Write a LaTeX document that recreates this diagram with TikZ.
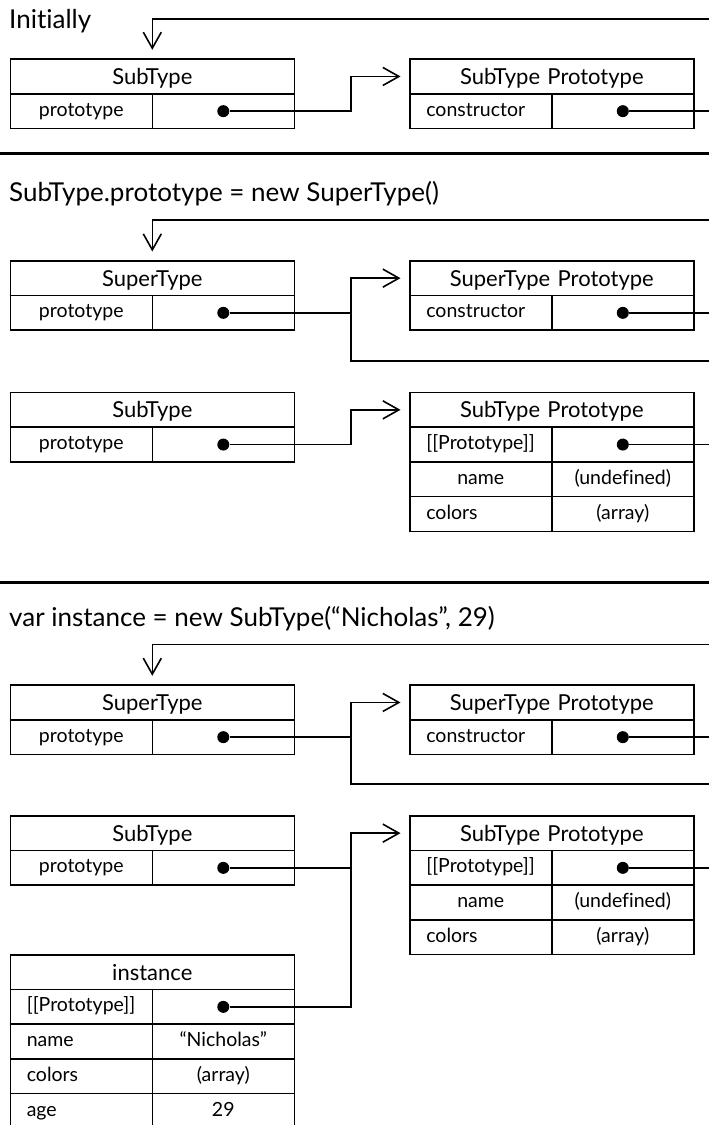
\documentclass[tikz,border=0pt]{standalone}
\usepackage{fontspec}
\setmainfont{Lato}[Ligatures=NoCommon]
\usetikzlibrary{arrows.meta}
\tikzset{
  cellbase/.style={draw, line width=1.6pt, anchor=north west, minimum height=34.7pt,
    inner ysep=0pt, inner xsep=0pt, font=\fontsize{19.5}{22}\selectfont,
    text height=14.4pt, text depth=4.2pt},
  hdr/.style={cellbase, text width=284pt, align=center, font=\fontsize{22}{26}\selectfont,
    text height=20.5pt, text depth=4.4pt},
  cc/.style={cellbase, text width=142pt, align=center},
  cl/.style={cellbase, text width=142pt, align=left, execute at begin node={\hspace*{16.5pt}}},
  tlt/.style={anchor=base west, inner sep=0pt, font=\fontsize{26}{30}\selectfont},
  dotnode/.style={circle, fill=black, minimum size=12pt, inner sep=0pt},
  conn/.style={line width=1.6pt},
  arr/.style={conn, -{Straight Barb[length=16pt,width=18pt]}, shorten >=8.5pt},
  sep/.style={line width=3pt}
}
\begin{document}
\begin{tikzpicture}[x=1pt,y=-1pt]
\useasboundingbox (0,0) rectangle (709,1125);
\coordinate (jx) at (351,0);
\coordinate (ex) at (709,0);

% ---------- Section 1
\node[tlt] (t1) at (9,28.3) {Initially};
\node[hdr] (a1) at (9.5,58.3) {SubType};
\node[cc] (a1k) at (9.5,93) {prototype};
\node[cc] (a1v) at (151.5,93) {};
\node[hdr] (b1) at (409,58.3) {SubType Prototype};
\node[cl] (b1k) at (409,93) {constructor};
\node[cc] (b1v) at (551,93) {};
\node[dotnode] (a1d) at (a1v.center) {};
\node[dotnode] (b1d) at (b1v.center) {};
\coordinate (e1t) at (709,19);
\draw[arr] (e1t) -| (a1.north);
\draw[arr] (a1d) -- (a1d -| jx) |- (b1.west);
\draw[conn] (b1d) -- (b1d -| ex);
\draw[sep] (0,153.3) -- (709,153.3);

% ---------- Section 2
\node[tlt] (t2) at (9,201.7) {SubType.prototype = new SuperType()};
\node[hdr] (a2) at (9.5,260) {SuperType};
\node[cc] (a2k) at (9.5,294.7) {prototype};
\node[cc] (a2v) at (151.5,294.7) {};
\node[hdr] (b2) at (409,260) {SuperType Prototype};
\node[cl] (b2k) at (409,294.7) {constructor};
\node[cc] (b2v) at (551,294.7) {};
\node[dotnode] (a2d) at (a2v.center) {};
\node[dotnode] (b2d) at (b2v.center) {};
\coordinate (e2t) at (709,220);
\coordinate (e2b) at (709,361);
\draw[arr] (e2t) -| (a2.north);
\draw[arr] (a2d) -- (a2d -| jx) |- (b2.west);
\draw[conn] (a2d -| jx) |- (e2b);
\draw[conn] (b2d) -- (b2d -| ex);

\node[hdr] (c2) at (9.5,391.7) {SubType};
\node[cc] (c2k) at (9.5,426.4) {prototype};
\node[cc] (c2v) at (151.5,426.4) {};
\node[hdr] (d2) at (409,391.7) {SubType Prototype};
\node[cl] (d2k1) at (409,426.4) {[[Prototype]]};
\node[cc] (d2v1) at (551,426.4) {};
\node[cc] (d2k2) at (409,461.1) {name};
\node[cc] (d2v2) at (551,461.1) {(undefined)};
\node[cl] (d2k3) at (409,495.8) {colors};
\node[cc] (d2v3) at (551,495.8) {(array)};
\node[dotnode] (c2d) at (c2v.center) {};
\node[dotnode] (d2d) at (d2v1.center) {};
\draw[arr] (c2d) -- (c2d -| jx) |- (d2.west);
\draw[conn] (d2d) -- (d2d -| ex);
\draw[sep] (0,582.7) -- (709,582.7);

% ---------- Section 3
\node[tlt] (t3) at (9,626.7) {var instance = new SubType(“Nicholas”, 29)};
\node[hdr] (a3) at (9.5,684.3) {SuperType};
\node[cc] (a3k) at (9.5,719) {prototype};
\node[cc] (a3v) at (151.5,719) {};
\node[hdr] (b3) at (409,684.3) {SuperType Prototype};
\node[cl] (b3k) at (409,719) {constructor};
\node[cc] (b3v) at (551,719) {};
\node[dotnode] (a3d) at (a3v.center) {};
\node[dotnode] (b3d) at (b3v.center) {};
\coordinate (e3t) at (709,644.3);
\coordinate (e3b) at (709,784);
\draw[arr] (e3t) -| (a3.north);
\draw[arr] (a3d) -- (a3d -| jx) |- (b3.west);
\draw[conn] (a3d -| jx) |- (e3b);
\draw[conn] (b3d) -- (b3d -| ex);

\node[hdr] (c3) at (9.5,815) {SubType};
\node[cc] (c3k) at (9.5,849.7) {prototype};
\node[cc] (c3v) at (151.5,849.7) {};
\node[hdr] (d3) at (409,815) {SubType Prototype};
\node[cl] (d3k1) at (409,849.7) {[[Prototype]]};
\node[cc] (d3v1) at (551,849.7) {};
\node[cc] (d3k2) at (409,884.4) {name};
\node[cc] (d3v2) at (551,884.4) {(undefined)};
\node[cl] (d3k3) at (409,919.1) {colors};
\node[cc] (d3v3) at (551,919.1) {(array)};

\node[hdr] (i3) at (9.5,954) {instance};
\node[cl] (i3k1) at (9.5,988.7) {[[Prototype]]};
\node[cc] (i3v1) at (151.5,988.7) {};
\node[cl] (i3k2) at (9.5,1023.4) {name};
\node[cc] (i3v2) at (151.5,1023.4) {“Nicholas”};
\node[cl] (i3k3) at (9.5,1058.1) {colors};
\node[cc] (i3v3) at (151.5,1058.1) {(array)};
\node[cl] (i3k4) at (9.5,1092.8) {age};
\node[cc] (i3v4) at (151.5,1092.8) {29};

\node[dotnode] (c3d) at (c3v.center) {};
\node[dotnode] (d3d) at (d3v1.center) {};
\node[dotnode] (i3d) at (i3v1.center) {};
\draw[arr] (i3d) -- (i3d -| jx) |- (d3.west);
\draw[conn] (c3d) -- (c3d -| jx);
\draw[conn] (d3d) -- (d3d -| ex);
\end{tikzpicture}
\end{document}
